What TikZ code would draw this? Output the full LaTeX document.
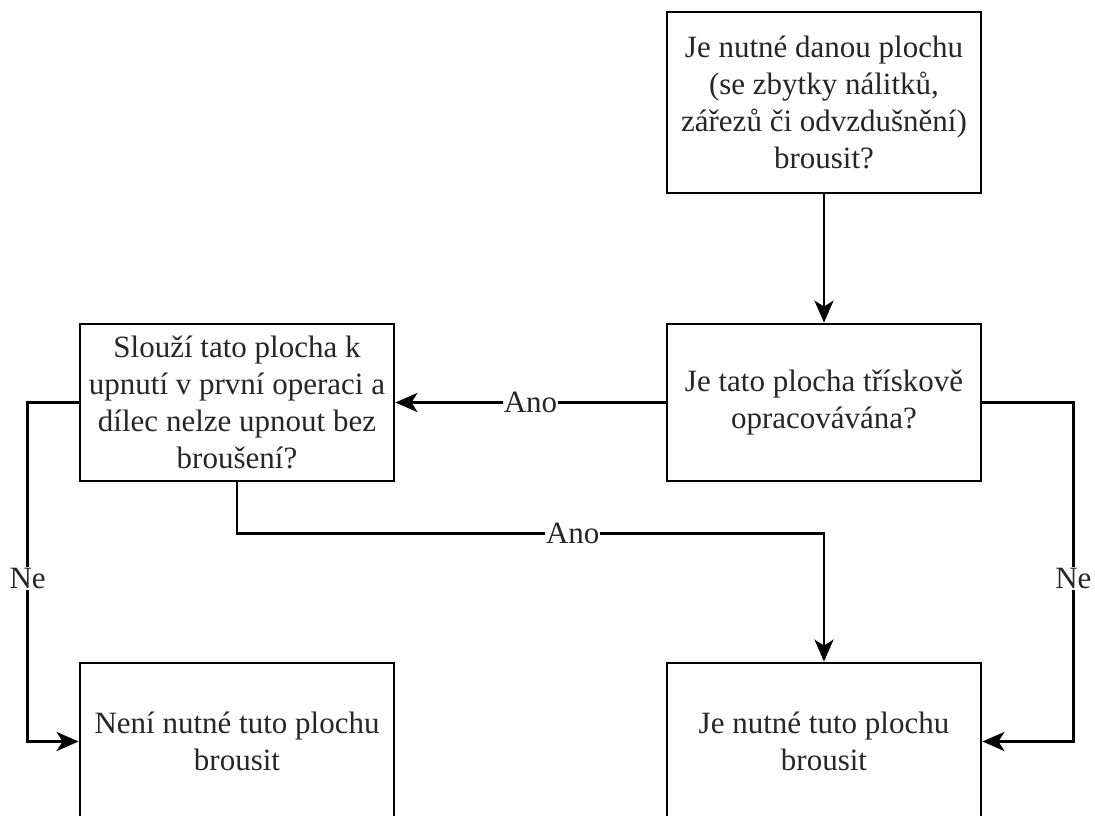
\documentclass[tikz,border=0pt]{standalone}
\usepackage{fontspec}
\setmainfont{LiberationSerif}[Extension=.ttf, UprightFont=*-Regular, BoldFont=*-Bold]
\usetikzlibrary{arrows.meta}
\begin{document}
\begin{tikzpicture}[x=1pt,y=-1pt,
  box/.style={draw=black, line width=2.8pt, fill=white, minimum width=314pt, inner sep=0pt, align=center, text=black!85, font=\fontsize{31}{37}\selectfont},
  conn/.style={line width=2.8pt, -{Stealth[length=22pt,width=19pt,inset=6pt]}},
  lbl/.style={fill=white, inner sep=1pt, text=black!85, font=\fontsize{31}{37}\selectfont}]
\clip (0,0) rectangle (1095,816);
\fill[white] (0,0) rectangle (1095,816);
\node[box, minimum height=181pt] (top) at (824,102.5) {Je nutné danou plochu\\(se zbytky nálitků,\\zářezů či odvzdušnění)\\brousit?};
\node[box, minimum height=157pt] (mr) at (824,402.5) {Je tato plocha třískově\\opracovávána?};
\node[box, minimum height=157pt] (ml) at (237,402.5) {Slouží tato plocha k\\upnutí v první operaci a\\dílec nelze upnout bez\\broušení?};
\node[box, minimum height=157pt] (bl) at (237,741.5) {Není nutné tuto plochu\\brousit};
\node[box, minimum height=157pt] (br) at (824,741.5) {Je nutné tuto plochu\\brousit};
\draw[conn] (top.south) -- (mr.north);
\draw[conn] (mr.west) -- node[lbl] {Ano} (ml.east);
\draw[conn] (mr.east) -- ++(91,0) coordinate (cr) |- node[lbl, pos=0.26] {Ne} (br.east);
\draw[conn] (ml.west) -- ++(-51,0) coordinate (cl) |- node[lbl, pos=0.26] {Ne} (bl.west);
\draw[conn] (ml.south) -- ++(0,51) coordinate (cm) -| node[lbl, pos=0.286] {Ano} (br.north);
\end{tikzpicture}
\end{document}
